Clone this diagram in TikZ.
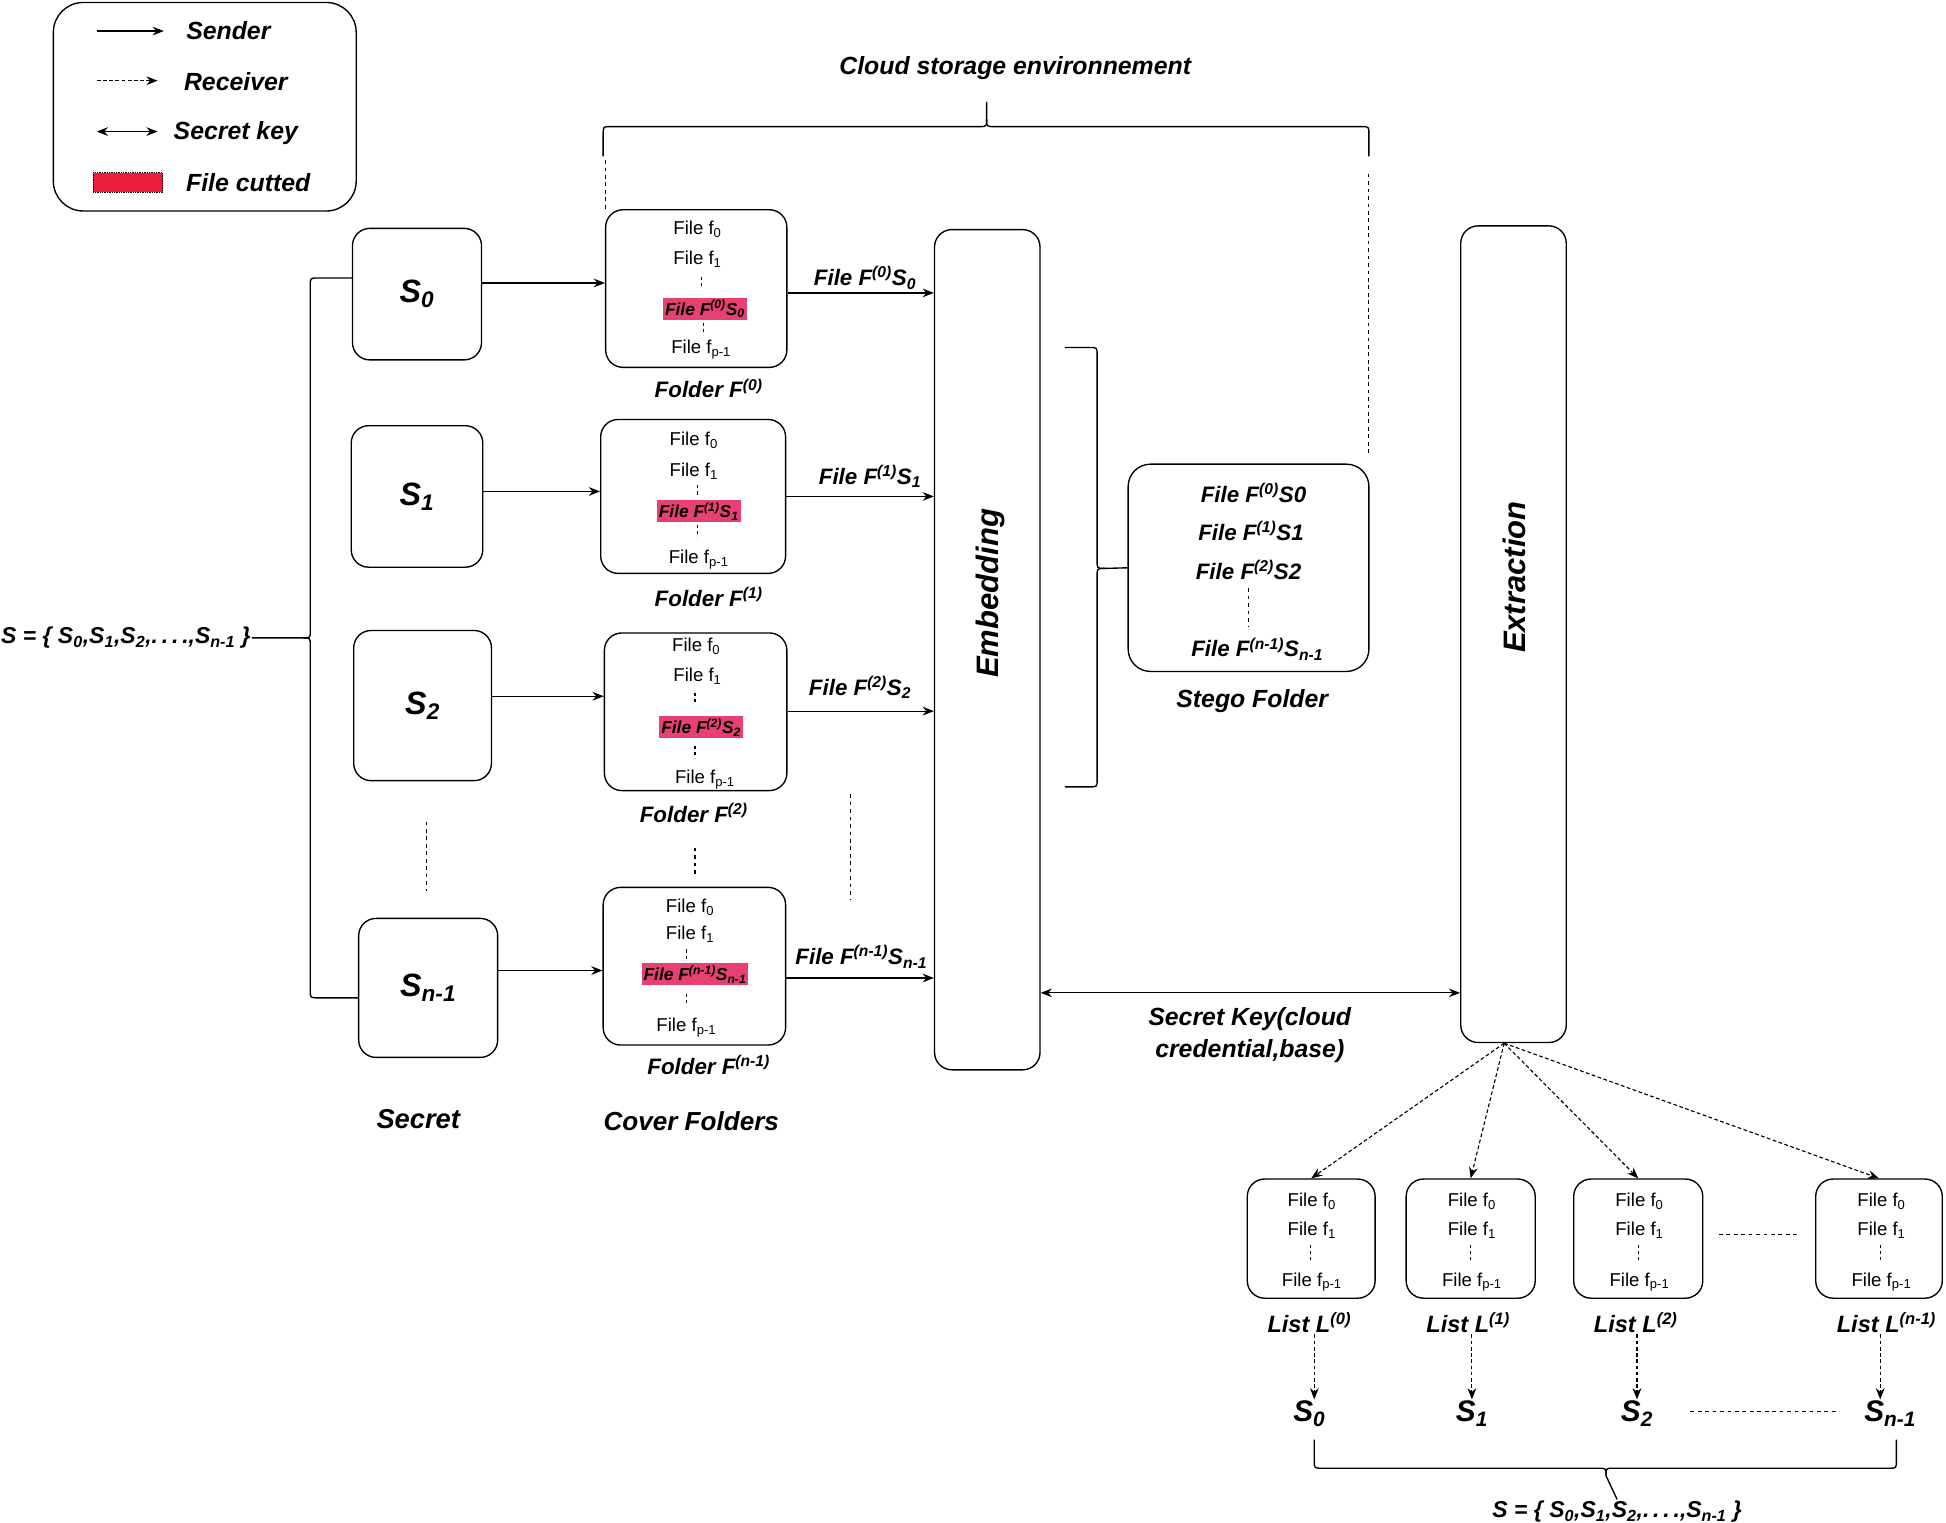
\documentclass[tikz,border=0pt]{standalone}
\usepackage{fontspec}
\setmainfont{Liberation Sans}
\usetikzlibrary{arrows.meta,calc}
\definecolor{cutred}{RGB}{232,64,112}
\definecolor{legred}{RGB}{236,28,60}
\newcommand{\fsz}[1]{\fontsize{#1}{#1}\selectfont}
\newcommand{\sbx}[1]{\textsubscript{#1}}
\newcommand{\spx}[1]{\textsuperscript{#1}}
\begin{document}
\begin{tikzpicture}[x=1pt,y=-1pt,
 box/.style={draw,line width=1.1pt,rounded corners=14pt,fill=white,inner sep=0pt},
 lab/.style={font=\fsz{20}\bfseries\itshape,inner sep=1pt},
 alab/.style={font=\fsz{18}\bfseries\itshape,inner sep=1pt},
 ftxt/.style={font=\fsz{15},inner sep=0pt},
 cut/.style={font=\fsz{14}\bfseries\itshape,fill=cutred,inner sep=1.5pt},
 sarr/.style={-{Stealth[length=9pt,width=7pt]},line width=1pt},
 karr/.style={{Stealth[length=9pt,width=7pt]}-{Stealth[length=9pt,width=7pt]},line width=1pt},
 rarr/.style={-{Stealth[length=9pt,width=7pt]},line width=0.9pt,dash pattern=on 3pt off 2pt},
 ell/.style={line width=0.9pt,dash pattern=on 3pt off 3pt},
 vdots/.style={line width=1pt,dash pattern=on 2.5pt off 2.5pt},
 brc/.style={line width=1.1pt},
]
\useasboundingbox (0,0) rectangle (1568,1227);

% ---------- legend ----------
\node[box,rounded corners=24pt,minimum width=244,minimum height=168] (legend) at (165,86) {};
\coordinate (lsa) at (78,25); \coordinate (lsb) at (132,25);
\draw[sarr] (lsa) -- (lsb);
\node[lab] (lsend) at (184,25) {Sender};
\coordinate (lra) at (78,65); \coordinate (lrb) at (127,65);
\draw[rarr] (lra) -- (lrb);
\node[lab] (lrec) at (190,66) {Receiver};
\coordinate (lka) at (78,106); \coordinate (lkb) at (127,106);
\draw[karr] (lka) -- (lkb);
\node[lab] (lkey) at (190,107) {Secret key};
\node[fill=legred,draw=black,densely dotted,minimum width=56,minimum height=16,inner sep=0pt] (lcut) at (103,147) {};
\node[lab] (lcutt) at (200,147) {File cutted};

% ---------- title and top brace ----------
\node[lab] (title) at (818,55) {Cloud storage environnement};
\draw[brc] (486,126) -- (486,108) .. controls (486,102) .. (492,102) -- (789,102) .. controls (795,102) .. (795,96) -- (795,82);
\draw[brc] (1103,126) -- (1103,108) .. controls (1103,102) .. (1097,102) -- (801,102) .. controls (795,102) .. (795,96);
\draw[ell] (488,129) -- (488,169);
\draw[ell] (1103,140) -- (1103,365);

% ---------- secret boxes ----------
\node[box,minimum width=104,minimum height=106,font=\fsz{26}\bfseries\itshape] (s0) at (336,237) {S\sbx{0}};
\node[box,minimum width=106,minimum height=114,font=\fsz{26}\bfseries\itshape] (s1) at (336,400) {S\sbx{1}};
\node[box,minimum width=111,minimum height=121,font=\fsz{26}\bfseries\itshape] (s2) at (340.5,568.5) {S\sbx{2}};
\node[box,minimum width=112,minimum height=112,font=\fsz{26}\bfseries\itshape] (sn) at (345,796) {S\sbx{n-1}};
\draw[ell] (344,662) -- (344,718);

% left brace and set label
\node[font=\fsz{18.5}\bfseries\itshape,inner sep=1pt,anchor=east] (sset) at (203,514) {S = \{ S\sbx{0},S\sbx{1},S\sbx{2},.\,.\,.\,.,S\sbx{n-1} \}};
\draw[brc] (s0.west |- 0,224) -- (256,224) .. controls (250,224) .. (250,230) -- (250,508) .. controls (250,514) .. (244,514) -- (sset.east);
\draw[brc] (244,514) .. controls (250,514) .. (250,520) -- (250,798) .. controls (250,804) .. (256,804) -- (sn.west |- 0,804);

% ---------- cover folders ----------
\node[box,minimum width=146,minimum height=127] (f0) at (561,232.5) {};
\node[box,minimum width=149,minimum height=124] (f1) at (558.5,400) {};
\node[box,minimum width=147,minimum height=127] (f2) at (560.5,573.5) {};
\node[box,minimum width=147,minimum height=127] (fn) at (559.5,778.5) {};

% F0 content
\node[ftxt] (f0a) at (562,185) {File f\sbx{0}};
\node[ftxt] (f0b) at (562,209) {File f\sbx{1}};
\draw[vdots] (565,223) -- (565,233);
\node[cut] (f0c) at (568,249) {File F\spx{(0)}S\sbx{0}};
\draw[vdots] (567,260) -- (567,270);
\node[ftxt] (f0d) at (565,282) {File f\sbx{p-1}};
\node[alab] (f0l) at (571,313) {Folder F\spx{(0)}};
% F1 content
\node[ftxt] (f1a) at (559,355) {File f\sbx{0}};
\node[ftxt] (f1b) at (559,380) {File f\sbx{1}};
\draw[vdots] (562,391) -- (562,401);
\node[cut] (f1c) at (563,412) {File F\spx{(1)}S\sbx{1}};
\draw[vdots] (562,423) -- (562,433);
\node[ftxt] (f1d) at (563,451) {File f\sbx{p-1}};
\node[alab] (f1l) at (571,481) {Folder F\spx{(1)}};
% F2 content
\node[ftxt] (f2a) at (561,521) {File f\sbx{0}};
\node[ftxt] (f2b) at (562,545) {File f\sbx{1}};
\draw[vdots] (560,558) -- (560,568);
\node[cut] (f2c) at (565,586) {File F\spx{(2)}S\sbx{2}};
\draw[vdots] (560,601) -- (560,611);
\node[ftxt] (f2d) at (568,628) {File f\sbx{p-1}};
\node[alab] (f2l) at (559,655) {Folder F\spx{(2)}};
% Fn content
\node[ftxt] (fna) at (556,731) {File f\sbx{0}};
\node[ftxt] (fnb) at (556,753) {File f\sbx{1}};
\draw[vdots] (553,765) -- (553,775);
\node[cut] (fnc) at (560,785) {File F\spx{(n-1)}S\sbx{n-1}};
\draw[vdots] (553,801) -- (553,811);
\node[ftxt] (fnd) at (553,828) {File f\sbx{p-1}};
\node[alab] (fnl) at (571,858) {Folder F\spx{(n-1)}};

\draw[ell] (560,683) -- (560,705);
\draw[ell] (685,640) -- (685,725);

% S -> folder arrows
\draw[sarr] (s0.east |- 0,228) -- (f0.west |- 0,228);
\draw[sarr] (s1.east |- 0,396) -- (f1.west |- 0,396);
\draw[sarr] (s2.east |- 0,561) -- (f2.west |- 0,561);
\draw[sarr] (sn.east |- 0,782) -- (fn.west |- 0,782);

% ---------- embedding ----------
\node[box,minimum width=85,minimum height=677] (emb) at (795.5,523.5) {};
\node[font=\fsz{25}\bfseries\itshape,rotate=90] (embt) at (798,478) {Embedding};

\draw[sarr] (f0.east |- 0,236) -- (emb.west |- 0,236);
\node[alab] (a0) at (697,224) {File F\spx{(0)}S\sbx{0}};
\draw[sarr] (f1.east |- 0,400) -- (emb.west |- 0,400);
\node[alab] (a1) at (701,384) {File F\spx{(1)}S\sbx{1}};
\draw[sarr] (f2.east |- 0,573) -- (emb.west |- 0,573);
\node[alab] (a2) at (693,554) {File F\spx{(2)}S\sbx{2}};
\draw[sarr] (fn.east |- 0,788) -- (emb.west |- 0,788);
\node[alab] (an) at (694,771) {File F\spx{(n-1)}S\sbx{n-1}};

% ---------- stego folder ----------
\node[box,minimum width=194,minimum height=167,rounded corners=18pt] (stego) at (1006,457.5) {};
\node[alab] (st0) at (1010,397) {File F\spx{(0)}S0};
\node[alab] (st1) at (1008,428) {File F\spx{(1)}S1};
\node[alab] (st2) at (1006,459) {File F\spx{(2)}S2};
\draw[ell] (1006,474) -- (1006,505);
\node[alab] (stn) at (1013,523) {File F\spx{(n-1)}S\sbx{n-1}};
\node[lab] (stl) at (1009,565) {Stego Folder};

\draw[brc] (858,280) -- (878,280) .. controls (884,280) .. (884,286) -- (884,452) .. controls (884,458) .. (890,458) -- (stego.west);
\draw[brc] (890,458) .. controls (884,458) .. (884,464) -- (884,628) .. controls (884,634) .. (878,634) -- (858,634);

% ---------- extraction ----------
\node[box,minimum width=85,minimum height=658] (ext) at (1219.5,511) {};
\node[font=\fsz{25}\bfseries\itshape,rotate=90] (extt) at (1220,465) {Extraction};

\draw[karr] (emb.east |- 0,800) -- (ext.west |- 0,800);
\node[lab,align=center,font=\fontsize{20}{25}\selectfont\bfseries\itshape] (keyl) at (1007,834) {Secret Key(cloud\\credential,base)};

\node[lab,font=\fsz{22}\bfseries\itshape] (secl) at (337,902) {Secret};
\node[lab,font=\fsz{21}\bfseries\itshape] (covl) at (557,903) {Cover Folders};

% ---------- lists ----------
\coordinate (xb) at (ext.south -| 1212,0);
\node[box,minimum width=103,minimum height=96] (l0) at (1056.5,998) {};
\node[box,minimum width=104,minimum height=96] (l1) at (1185,998) {};
\node[box,minimum width=104,minimum height=96] (l2) at (1320,998) {};
\node[box,minimum width=102,minimum height=96] (ln) at (1514,998) {};

\foreach \n/\x in {l0/1057,l1/1186,l2/1321,ln/1516}{
  \node[ftxt] (\n a) at (\x,968) {File f\sbx{0}};
  \node[ftxt] (\n b) at (\x,991) {File f\sbx{1}};
  \draw[vdots] (\x-1,1003) -- (\x-1,1015);
  \node[ftxt] (\n d) at (\x,1033) {File f\sbx{p-1}};
}
\draw[ell] (1385,995) -- (1450,995);

\draw[rarr] (xb) -- (l0.north);
\draw[rarr] (xb) -- (l1.north);
\draw[rarr] (xb) -- (l2.north);
\draw[rarr] (xb) -- (ln.north);

\node[lab,font=\fsz{19}\bfseries\itshape] (ll0) at (1055,1066) {List L\spx{(0)}};
\node[lab,font=\fsz{19}\bfseries\itshape] (ll1) at (1183,1066) {List L\spx{(1)}};
\node[lab,font=\fsz{19}\bfseries\itshape] (ll2) at (1318,1066) {List L\spx{(2)}};
\node[lab,font=\fsz{19}\bfseries\itshape] (lln) at (1520,1066) {List L\spx{(n-1)}};

\node[font=\fsz{24}\bfseries\itshape,inner sep=1pt] (bs0) at (1055,1139) {S\sbx{0}};
\node[font=\fsz{24}\bfseries\itshape,inner sep=1pt] (bs1) at (1186,1139) {S\sbx{1}};
\node[font=\fsz{24}\bfseries\itshape,inner sep=1pt] (bs2) at (1319,1139) {S\sbx{2}};
\node[font=\fsz{24}\bfseries\itshape,inner sep=1pt] (bsn) at (1523,1139) {S\sbx{n-1}};

\draw[rarr] ([xshift=4pt]ll0.south) -- ([xshift=4pt]ll0.south |- bs0.north);
\draw[rarr] (bs1.north |- ll1.south) -- (bs1.north);
\draw[rarr] ([xshift=1pt]ll2.south) -- ([xshift=1pt]ll2.south |- bs2.north);
\draw[rarr] ([xshift=-5pt]lln.south) -- ([xshift=-5pt]lln.south |- bsn.north);
\draw[ell] (1362,1137) -- (1482,1137);

% bottom brace
\node[font=\fsz{18.5}\bfseries\itshape,inner sep=1pt] (bset) at (1303,1218) {S = \{ S\sbx{0},S\sbx{1},S\sbx{2},.\,.\,.\,.,S\sbx{n-1} \}};
\draw[brc] (1059,1160) -- (1059,1177) .. controls (1059,1183) .. (1065,1183) -- (1288,1183) .. controls (1294,1183) .. (1294,1189) -- (bset.north);
\draw[brc] (1528,1160) -- (1528,1177) .. controls (1528,1183) .. (1522,1183) -- (1300,1183) .. controls (1294,1183) .. (1294,1189);
\end{tikzpicture}
\end{document}
